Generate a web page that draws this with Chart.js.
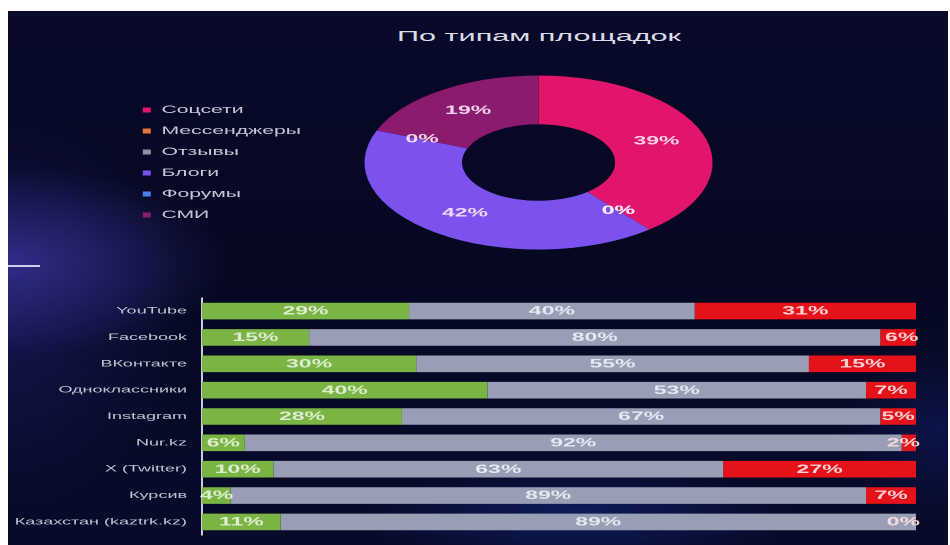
<!DOCTYPE html>
<html><head><meta charset="utf-8">
<script src="https://cdn.jsdelivr.net/npm/chart.js@4.4.1/dist/chart.umd.min.js"></script>
<style>
html,body{margin:0;padding:0;background:#fff;width:950px;height:545px;overflow:hidden;}
#wrap{position:absolute;left:0;top:0;width:475px;height:545px;transform:scaleX(2);transform-origin:0 0;}
#stage{position:absolute;left:3.5px;top:11px;width:470.5px;height:534px;overflow:hidden;
 background:
 radial-gradient(ellipse 110px 95px at 0px 250px, rgba(80,70,205,0.5), rgba(80,70,205,0) 100%),
 radial-gradient(ellipse 90px 200px at 0px 300px, rgba(45,45,150,0.35), rgba(45,45,150,0) 100%),
 radial-gradient(ellipse 110px 50px at 285px 505px, rgba(30,70,210,0.3), rgba(30,70,210,0) 100%),
 radial-gradient(ellipse 50px 90px at 465px 420px, rgba(30,60,190,0.22), rgba(30,60,190,0) 100%),
 linear-gradient(180deg,#08092c 0%,#060822 45%,#070a2a 100%);}
#title{position:absolute;left:0;top:15px;width:532px;text-align:center;font:15.3px "Liberation Sans",Arial,sans-serif;line-height:20px;color:#dcdce6;}
#deco{position:absolute;left:0.5px;top:254px;width:16px;height:2px;background:rgba(235,235,255,0.85);}
#donut{position:absolute;left:57.5px;top:61px;}
#bars{position:absolute;left:0;top:274px;}
</style></head>
<body>
<div id="wrap"><div id="stage">
<div id="title">По типам площадок</div>
<div id="deco"></div>
<canvas id="donut" width="317" height="181"></canvas>
<canvas id="bars" width="467" height="263"></canvas>
</div></div>
<script>
// ---- data ----
const siteTypes = ['Соцсети','Мессенджеры','Отзывы','Блоги','Форумы','СМИ'];
const siteShares = [39, 0, 0, 42, 0, 19];
const siteColors = ['#e1166b','#e8743c','#8c94a8','#7b52ee','#4a80e8','#8a1b6e'];

const platforms = ['YouTube','Facebook','ВКонтакте','Одноклассники','Instagram','Nur.kz','X (Twitter)','Курсив','Казахстан (kaztrk.kz)'];
const greenShare = [29, 15, 30, 40, 28, 6, 10, 4, 11];
const greyShare  = [40, 80, 55, 53, 67, 92, 63, 89, 89];
const redShare   = [31, 6, 15, 7, 5, 2, 27, 7, 0];

const FONT = '"Liberation Sans", Arial, sans-serif';

const donutLabels = {
  id:'donutLabels',
  afterDatasetsDraw(chart){
    const ctx = chart.ctx; const meta = chart.getDatasetMeta(0);
    ctx.save();
    ctx.font = 'bold 11.5px ' + FONT;
    ctx.fillStyle = 'rgba(255,235,250,0.88)';
    ctx.textAlign = 'center'; ctx.textBaseline = 'middle';
    meta.data.forEach((arc,i)=>{
      const p = arc.tooltipPosition();
      ctx.fillText(chart.data.datasets[0].data[i] + '%', p.x, p.y);
    });
    ctx.restore();
  }
};

new Chart(document.getElementById('donut'), {
  type:'doughnut',
  data:{ labels: siteTypes, datasets:[{ data: siteShares, backgroundColor: siteColors, borderWidth:0 }] },
  options:{
    responsive:false, animation:false, devicePixelRatio:2,
    cutout:'44%', radius:87,
    layout:{padding:0},
    plugins:{
      tooltip:{enabled:false},
      legend:{ position:'left', align:'center',
        labels:{ boxWidth:4, boxHeight:5, padding:10.4, color:'#c6c6d6', font:{family:FONT,size:10.6} } }
    }
  },
  plugins:[donutLabels]
});

const barLabels = {
  id:'barLabels',
  afterDatasetsDraw(chart){
    const ctx = chart.ctx; const area = chart.chartArea;
    ctx.save();
    ctx.font = 'bold 11.5px ' + FONT;
    ctx.textAlign = 'center'; ctx.textBaseline = 'middle';
    chart.data.datasets.forEach((ds,i)=>{
      const meta = chart.getDatasetMeta(i);
      ctx.fillStyle = ds.labelColor;
      meta.data.forEach((bar,j)=>{
        const t = ds.data[j] + '%';
        const w = ctx.measureText(t).width;
        let cx = (bar.x + bar.base)/2;
        cx = Math.min(cx, area.right + 2 - w/2);
        cx = Math.max(cx, area.left + w/2 - 1);
        ctx.fillText(t, cx, bar.y + 0.5);
      });
    });
    ctx.restore();
  }
};

new Chart(document.getElementById('bars'), {
  type:'bar',
  data:{ labels: platforms, datasets:[
    { data: greenShare, backgroundColor:'#7ab445', labelColor:'rgba(235,245,225,0.88)' },
    { data: greyShare,  backgroundColor:'#989fb4', labelColor:'rgba(240,242,250,0.88)' },
    { data: redShare,   backgroundColor:'#e5121a', labelColor:'rgba(255,225,225,0.92)' }
  ]},
  options:{
    indexAxis:'y', responsive:false, animation:false, devicePixelRatio:2,
    datasets:{ bar:{ categoryPercentage:1, barPercentage:0.63, borderWidth:0 } },
    layout:{ padding:{ top:0, bottom:0, right:13, left:0 } },
    scales:{
      x:{ stacked:true, min:0, max:100, display:false },
      y:{ stacked:true,
          grid:{ display:false, drawTicks:false },
          border:{ display:true, color:'#c9cdd9', width:1 },
          ticks:{ color:'#c0c4d2', padding:7.5, font:{family:FONT,size:9} },
          afterFit(scale){ scale.width = 97; } }
    },
    plugins:{ legend:{display:false}, tooltip:{enabled:false} }
  },
  plugins:[barLabels]
});
</script>
</body></html>
